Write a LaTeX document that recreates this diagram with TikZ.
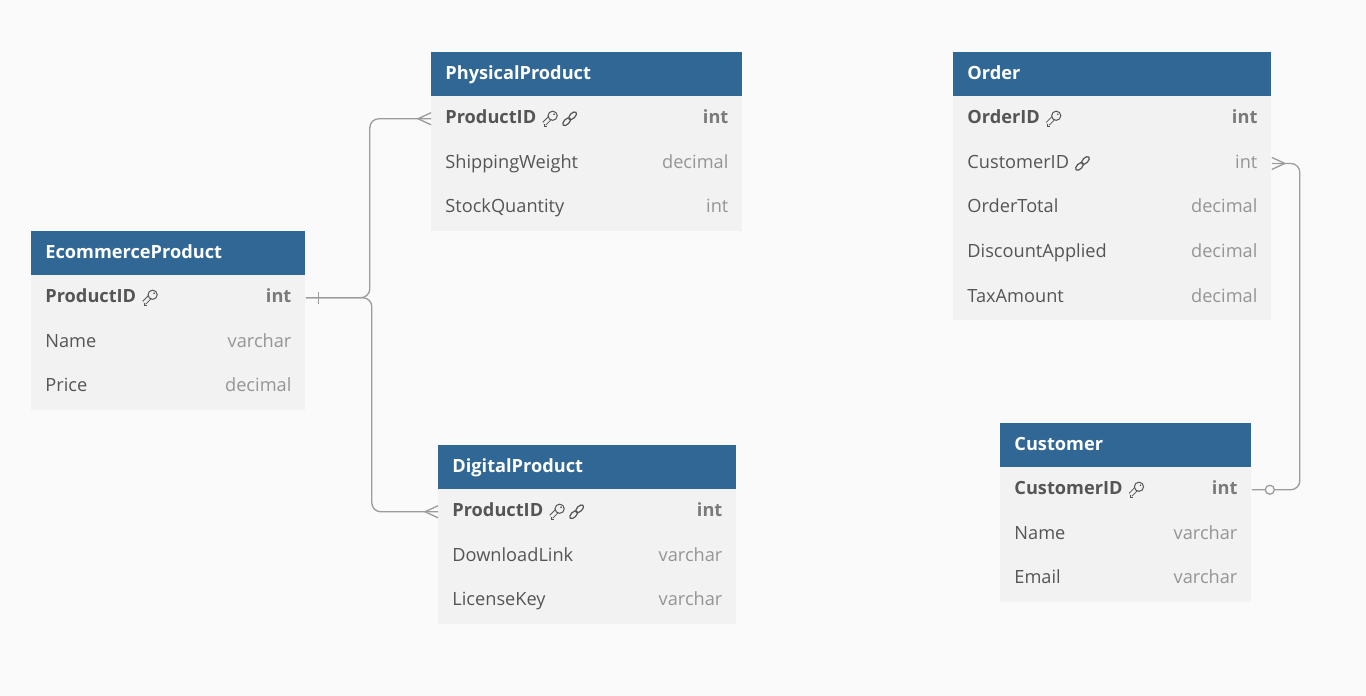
\documentclass[tikz,border=0pt]{standalone}
\usepackage{fontspec}
\setmainfont{Open Sans}
\usetikzlibrary{positioning}
\usetikzlibrary{calc}
\definecolor{hdrblue}{HTML}{316795}
\definecolor{rowgray}{HTML}{F2F2F2}
\definecolor{pagebg}{HTML}{FAFAFA}
\definecolor{nametxt}{HTML}{555555}
\definecolor{typetxt}{HTML}{959595}
\definecolor{pktype}{HTML}{7A7A7A}
\definecolor{linkgray}{HTML}{9C9C9C}

\begin{document}
\begin{tikzpicture}[
  x=0.5pt, y=-0.5pt,
  font=\fontsize{9.1}{11}\selectfont,
  hdr/.style={fill=hdrblue, anchor=north west, minimum height=22pt, minimum width=#1, inner sep=0pt},
  title/.style={text=white, font=\fontsize{9.1}{11}\selectfont\bfseries, inner sep=0pt, text height=0.8em, text depth=0.33em},
  row/.style={fill=rowgray, anchor=north west, minimum height=22.35pt, minimum width=#1, inner sep=0pt},
  fname/.style={text=nametxt, inner sep=0pt, text height=0.8em, text depth=0.33em},
  ftype/.style={text=typetxt, inner sep=0pt, text height=0.8em, text depth=0.33em},
  pk/.style={font=\fontsize{9.1}{11}\selectfont\bfseries},
  pkt/.style={font=\fontsize{9.1}{11}\selectfont\bfseries, text=pktype},
  conn/.style={draw=linkgray, line width=0.65pt},
  pkey/.pic={
    \draw[draw=nametxt, line width=0.45pt, double=rowgray, double distance=1.5pt] (7,-0.5) -- (1.5,5);
    \draw[draw=nametxt, line width=0.45pt] (1.5,5) -- (1.5,7.5) -- (4,7.5);
    \draw[draw=nametxt, line width=0.5pt, fill=rowgray] (10,-3) circle (4.6);
    \fill[nametxt] (11.5,-4.5) circle (0.9);
  },
  fkey/.pic={
    \draw[draw=nametxt, line width=0.6pt, rotate around={45:(4,3)}] (4,3) ellipse (4.8 and 2.6);
    \draw[draw=nametxt, line width=0.6pt, rotate around={45:(10,-3)}] (10,-3) ellipse (4.8 and 2.6);
  },
  many/.pic={
    \draw[conn] (0,-6) -- (-13,0) -- (0,6);
  }
]

\fill[pagebg] (0,0) rectangle (1366,696);

% EcommerceProduct
\node[hdr=137pt] (eprod) at (31,231) {};
\node[title, right=7pt of eprod.west] (eprod-t) {EcommerceProduct};
\node[row=137pt] (eprod-1) at (31,275) {};
\node[fname, pk, right=7pt of eprod-1.west] (eprod-1-n) {ProductID};
\node[ftype, pkt, left=7pt of eprod-1.east] (eprod-1-t) {int};
\foreach \f/\t [count=\i from 2] in {Name/varchar, Price/decimal} {
  \node[row=137pt] (eprod-\i) at (31,{275+44.7*(\i-1)}) {};
  \node[fname, right=7pt of eprod-\i.west] (eprod-\i-n) {\f};
  \node[ftype, left=7pt of eprod-\i.east] (eprod-\i-t) {\t};
}
\pic at ([xshift=3pt]eprod-1-n.east) {pkey};

% PhysicalProduct
\node[hdr=155.5pt] (phys) at (431,52) {};
\node[title, right=7pt of phys.west] (phys-t) {PhysicalProduct};
\node[row=155.5pt] (phys-1) at (431,96) {};
\node[fname, pk, right=7pt of phys-1.west] (phys-1-n) {ProductID};
\node[ftype, pkt, left=7pt of phys-1.east] (phys-1-t) {int};
\foreach \f/\t [count=\i from 2] in {ShippingWeight/decimal, StockQuantity/int} {
  \node[row=155.5pt] (phys-\i) at (431,{96+44.7*(\i-1)}) {};
  \node[fname, right=7pt of phys-\i.west] (phys-\i-n) {\f};
  \node[ftype, left=7pt of phys-\i.east] (phys-\i-t) {\t};
}
\pic at ([xshift=3pt]phys-1-n.east) {pkey};
\pic at ([xshift=13pt]phys-1-n.east) {fkey};

% DigitalProduct
\node[hdr=149pt] (digi) at (438,445) {};
\node[title, right=7pt of digi.west] (digi-t) {DigitalProduct};
\node[row=149pt] (digi-1) at (438,489) {};
\node[fname, pk, right=7pt of digi-1.west] (digi-1-n) {ProductID};
\node[ftype, pkt, left=7pt of digi-1.east] (digi-1-t) {int};
\foreach \f/\t [count=\i from 2] in {DownloadLink/varchar, LicenseKey/varchar} {
  \node[row=149pt] (digi-\i) at (438,{489+44.7*(\i-1)}) {};
  \node[fname, right=7pt of digi-\i.west] (digi-\i-n) {\f};
  \node[ftype, left=7pt of digi-\i.east] (digi-\i-t) {\t};
}
\pic at ([xshift=3pt]digi-1-n.east) {pkey};
\pic at ([xshift=13pt]digi-1-n.east) {fkey};

% Order
\node[hdr=159pt] (order) at (953,52) {};
\node[title, right=7pt of order.west] (order-t) {Order};
\node[row=159pt] (order-1) at (953,96) {};
\node[fname, pk, right=7pt of order-1.west] (order-1-n) {OrderID};
\node[ftype, pkt, left=7pt of order-1.east] (order-1-t) {int};
\foreach \f/\t [count=\i from 2] in {CustomerID/int, OrderTotal/decimal, DiscountApplied/decimal, TaxAmount/decimal} {
  \node[row=159pt] (order-\i) at (953,{96+44.7*(\i-1)}) {};
  \node[fname, right=7pt of order-\i.west] (order-\i-n) {\f};
  \node[ftype, left=7pt of order-\i.east] (order-\i-t) {\t};
}
\pic at ([xshift=3pt]order-1-n.east) {pkey};
\pic at ([xshift=3pt]order-2-n.east) {fkey};

% Customer
\node[hdr=125.5pt] (cust) at (1000,423) {};
\node[title, right=7pt of cust.west] (cust-t) {Customer};
\node[row=125.5pt] (cust-1) at (1000,467) {};
\node[fname, pk, right=7pt of cust-1.west] (cust-1-n) {CustomerID};
\node[ftype, pkt, left=7pt of cust-1.east] (cust-1-t) {int};
\foreach \f/\t [count=\i from 2] in {Name/varchar, Email/varchar} {
  \node[row=125.5pt] (cust-\i) at (1000,{467+44.7*(\i-1)}) {};
  \node[fname, right=7pt of cust-\i.west] (cust-\i-n) {\f};
  \node[ftype, left=7pt of cust-\i.east] (cust-\i-t) {\t};
}
\pic at ([xshift=3pt]cust-1-n.east) {pkey};

% relations
\draw[conn, rounded corners=4.5pt] (eprod-1.east) -- ($(eprod-1.east)+(64,0)$) |- (phys-1.west);
\draw[conn, rounded corners=4.5pt] (eprod-1.east) -- ($(eprod-1.east)+(66,0)$) |- (digi-1.west);
\draw[conn] ($(eprod-1.east)+(13,-6)$) -- ($(eprod-1.east)+(13,6)$);
\pic at (phys-1.west) {many};
\pic at (digi-1.west) {many};

\draw[conn, rounded corners=4.5pt] (order-2.east) -- ($(order-2.east)+(28,0)$) |- (cust-1.east);
\pic[xscale=-1] at (order-2.east) {many};
\draw[conn, fill=pagebg] ($(cust-1.east)+(18,0)$) circle (4.5);

\end{tikzpicture}
\end{document}
